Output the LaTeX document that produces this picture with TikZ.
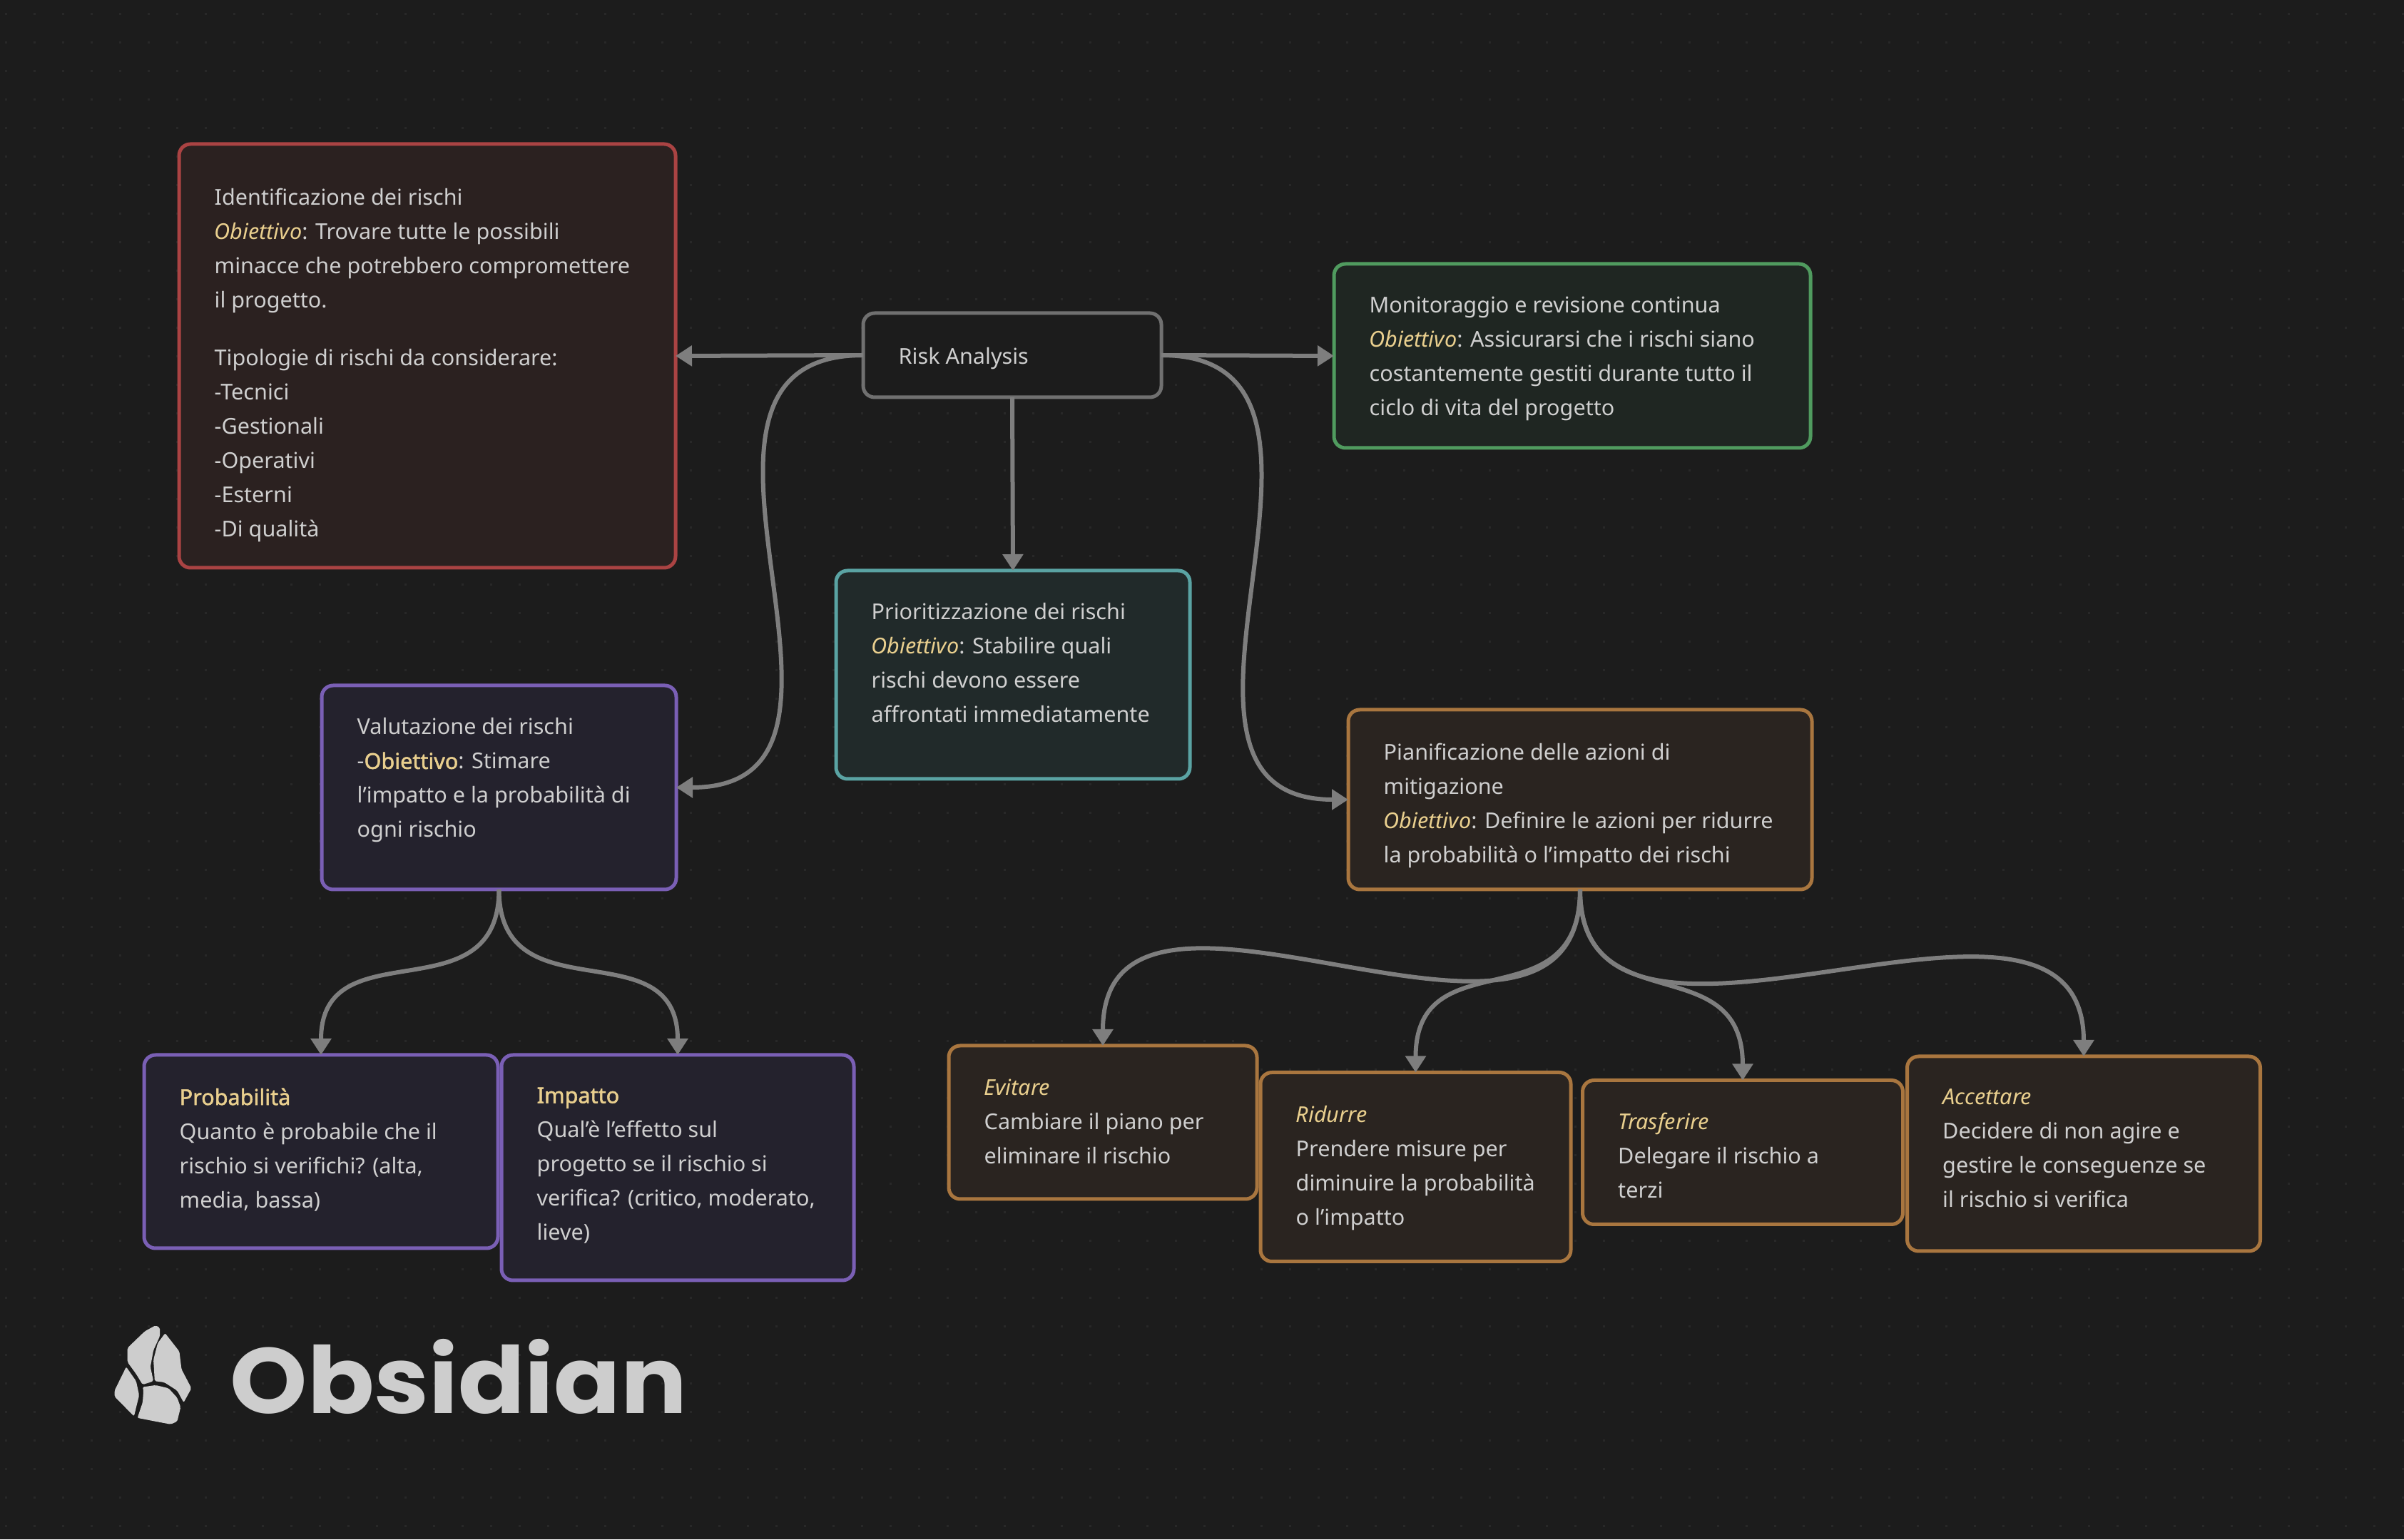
\documentclass[tikz,border=0pt]{standalone}
\usepackage{fontspec}
\setmainfont{Noto Sans}
\newfontfamily\semibfont[FakeBold=1.6]{Noto Sans}
\newfontfamily\logofont{Poppins}
\usetikzlibrary{arrows.meta, positioning, calc}
\definecolor{bgc}{HTML}{1C1C1C}
\definecolor{griddot}{HTML}{282828}
\definecolor{txtc}{HTML}{CFCFCF}
\definecolor{accent}{HTML}{E9CF8E}
\definecolor{edgec}{HTML}{7E7E7E}
\definecolor{logoc}{HTML}{CDCDCD}
\definecolor{redb}{HTML}{AA4343}
\definecolor{redf}{HTML}{2B2120}
\definecolor{greenb}{HTML}{509B5F}
\definecolor{greenf}{HTML}{1F2622}
\definecolor{tealb}{HTML}{5AA3A3}
\definecolor{tealf}{HTML}{212A2A}
\definecolor{purpb}{HTML}{7A5FB5}
\definecolor{purpf}{HTML}{24222D}
\definecolor{oranb}{HTML}{A9763F}
\definecolor{oranf}{HTML}{2A2420}
\definecolor{grayb}{HTML}{707070}
\definecolor{grayf}{HTML}{1C1C1C}
\newcommand{\obi}{{\color{accent}\textit{Obiettivo}}}
\newcommand{\hitem}[1]{{\color{accent}\textit{#1}}}
\newcommand{\hbold}[1]{{\color{accent}\semibfont #1}}
\tikzset{
  cbox/.style n args={3}{draw=#1b, fill=#1f, line width=0.05cm, rounded corners=0.16cm,
    inner sep=0, outer sep=0, minimum width=#2 cm, minimum height=#3 cm},
  txt/.style={anchor=north west, align=left, inner sep=0, text=txtc,
    font=\fontsize{8.7pt}{13.66pt}\selectfont,
    execute at begin node={\rule{0pt}{0.25cm}}},
  edge/.style={draw=edgec, line width=0.06cm, -{Triangle[length=0.23cm,width=0.28cm]}},
  dotrow/.style={griddot, line width=0.03cm, dash pattern=on 0.03cm off 0.37cm},
  logo/.style={fill=logoc, rounded corners=0.02cm}
}
\begin{document}
\begin{tikzpicture}
\useasboundingbox (0,0) rectangle (33.7,21.58);
\fill[bgc] (0,0) rectangle (33.7,21.58);
\foreach \y in {0,...,53} {
\draw[dotrow] (0.075,0.19+\y*0.4) -- (33.7,0.19+\y*0.4);
}
% boxes
\foreach \n/\c/\x/\y/\w/\h in {red/red/5.99/16.59/6.96/5.94, risk/gray/14.19/16.60/4.18/1.18,
  green/green/22.04/16.59/6.68/2.58, teal/teal/14.20/12.12/4.96/2.92,
  valut/purp/6.995/10.54/4.97/2.86, pian/oran/22.15/10.37/6.50/2.52,
  prob/purp/4.50/5.435/4.96/2.71, impat/purp/9.50/5.21/4.94/3.16,
  evit/oran/15.46/5.845/4.32/2.15, ridur/oran/19.845/5.22/4.35/2.65,
  trasf/oran/24.43/5.425/4.49/2.02, accet/oran/29.21/5.405/4.95/2.73} {
\node[cbox={\c}{\w}{\h}] (\n) at (\x,\y) {};
}
\node[txt] (risktxt) at ([shift={(0.49,-0.46)}]risk.north west) {Risk Analysis};
\node[txt] (redtxt) at ([shift={(0.49,-0.61)}]red.north west) {Identificazione dei rischi\\
  \obi: Trovare tutte le possibili\\ minacce che potrebbero compromettere\\ il progetto.\\[0.33cm]
  Tipologie di rischi da considerare:\\ -Tecnici\\ -Gestionali\\ -Operativi\\ -Esterni\\ -Di qualità};
\node[txt] (greentxt) at ([shift={(0.49,-0.45)}]green.north west) {Monitoraggio e revisione continua\\
  \obi: Assicurarsi che i rischi siano\\ costantemente gestiti durante tutto il\\ ciclo di vita del progetto};
\node[txt] (tealtxt) at ([shift={(0.49,-0.45)}]teal.north west) {Prioritizzazione dei rischi\\
  \obi: Stabilire quali\\ rischi devono essere\\ affrontati immediatamente};
\node[txt] (valuttxt) at ([shift={(0.49,-0.45)}]valut.north west) {Valutazione dei rischi\\
  -\hbold{Obiettivo}: Stimare\\ l'impatto e la probabilità di\\ ogni rischio};
\node[txt] (piantxt) at ([shift={(0.49,-0.46)}]pian.north west) {Pianificazione delle azioni di\\
  mitigazione\\ \obi: Definire le azioni per ridurre\\ la probabilità o l'impatto dei rischi};
\node[txt] (probtxt) at ([shift={(0.49,-0.46)}]prob.north west) {\hbold{Probabilità}\\
  Quanto è probabile che il\\ rischio si verifichi? (alta,\\ media, bassa)};
\node[txt] (impattxt) at ([shift={(0.49,-0.45)}]impat.north west) {\hbold{Impatto}\\
  Qual'è l'effetto sul\\ progetto se il rischio si\\ verifica? (critico, moderato,\\ lieve)};
\node[txt] (evittxt) at ([shift={(0.49,-0.46)}]evit.north west) {\hitem{Evitare}\\
  Cambiare il piano per\\ eliminare il rischio};
\node[txt] (ridurtxt) at ([shift={(0.49,-0.46)}]ridur.north west) {\hitem{Ridurre}\\
  Prendere misure per\\ diminuire la probabilità\\ o l'impatto};
\node[txt] (trasftxt) at ([shift={(0.49,-0.45)}]trasf.north west) {\hitem{Trasferire}\\
  Delegare il rischio a\\ terzi};
\node[txt] (accettxt) at ([shift={(0.49,-0.45)}]accet.north west) {\hitem{Accettare}\\
  Decidere di non agire e\\ gestire le conseguenze se\\ il rischio si verifica};
% connectors
\draw[edge] (risk.west) -- (red.east);
\draw[edge] (risk.east) -- (green.west);
\draw[edge] (risk.south) -- (teal.north);
\draw[edge] (risk.west) .. controls +(-3.3,0) and +(3.3,0) .. (valut.east);
\draw[edge] (risk.east) .. controls +(3.3,0) and +(-3.3,0) .. (pian.west);
\draw[edge] (valut.south) .. controls +(0,-1.8) and +(0,1.8) .. (prob.north);
\draw[edge] (valut.south) .. controls +(0,-1.8) and +(0,1.8) .. (impat.north);
\draw[edge] (pian.south) .. controls +(0,-3.25) and +(0,3.25) .. (evit.north);
\draw[edge] (pian.south) .. controls +(0,-1.9) and +(0,1.9) .. (ridur.north);
\draw[edge] (pian.south) .. controls +(0,-1.9) and +(0,1.9) .. (trasf.north);
\draw[edge] (pian.south) .. controls +(0,-3.25) and +(0,3.25) .. (accet.north);
% logo
\begin{scope}[shift={(1,4.08)},x=0.00606cm,y=-0.00333cm]
\fill[logo] (195,325) -- (205,335) -- (205,370) -- (190,430) -- (183,500) -- (190,560)
  -- (165,575) -- (150,530) -- (130,480) -- (130,420) -- (170,350) -- cycle;
\fill[logo] (217,358) -- (250,435) -- (255,510) -- (278,590) -- (260,650) -- (245,600)
  -- (215,565) -- (193,560) -- (190,470) -- (200,400) -- cycle;
\fill[logo] (127,500) -- (150,560) -- (157,620) -- (145,708) -- (100,625) -- (100,600) -- cycle;
\fill[logo] (165,585) -- (195,577) -- (225,590) -- (245,630) -- (253,670) -- (245,730)
  -- (230,742) -- (195,730) -- (153,715) -- (165,650) -- (167,600) -- cycle;
\end{scope}
\node[anchor=base west, inner sep=0, text=logoc, xscale=1.06,
  font=\logofont\bfseries\fontsize{37pt}{40pt}\selectfont] (obsidian) at (3.22,1.77) {Obsidian};
\end{tikzpicture}
\end{document}
